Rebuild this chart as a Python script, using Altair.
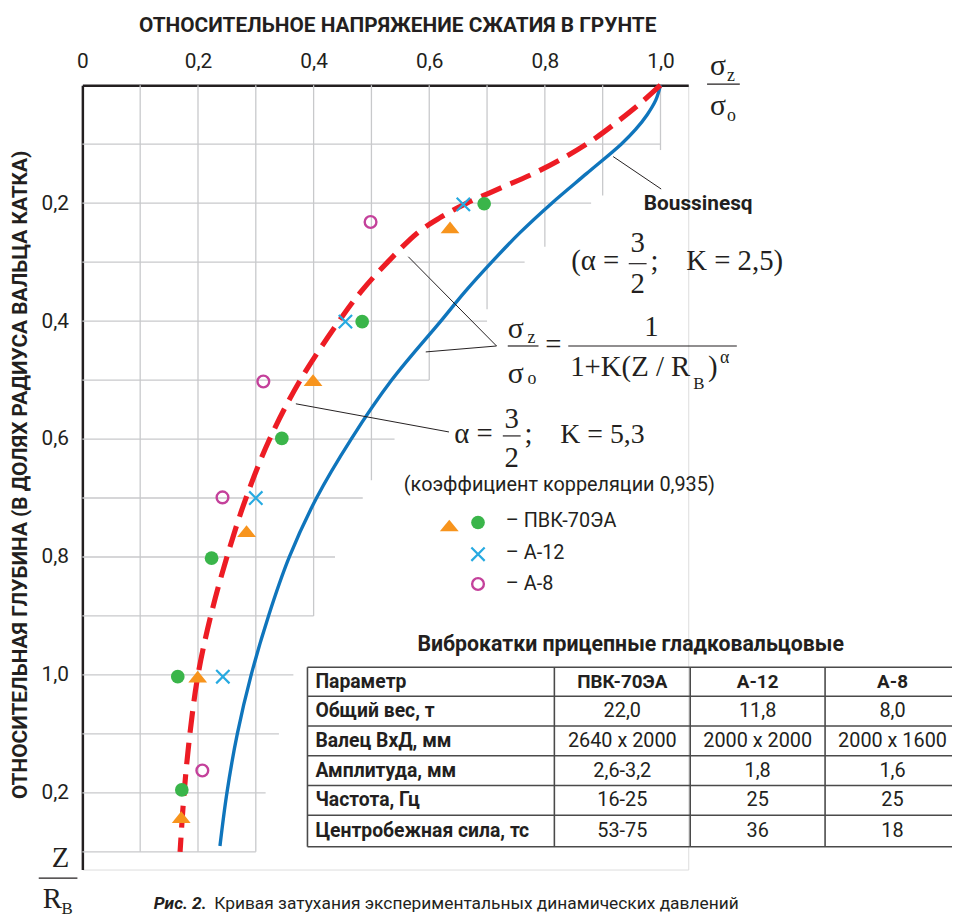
import json
import altair as alt
import pandas as pd

# ---------------- data ----------------
# Boussinesq curve (solid blue): relative depth Z/R_B -> relative stress
blue_depth = [0.0, 0.025, 0.05, 0.075, 0.10, 0.15, 0.20, 0.25, 0.30, 0.35, 0.40,
              0.50, 0.60, 0.70, 0.80, 0.90, 1.00, 1.10, 1.20, 1.29]
blue_ratio = [1.0, 0.992, 0.977, 0.957, 0.932, 0.872, 0.812, 0.757, 0.708, 0.662, 0.620,
              0.535, 0.465, 0.405, 0.358, 0.322, 0.292, 0.268, 0.250, 0.238]

# experimental fit (red dashed)
red_depth = [0.0, 0.03, 0.06, 0.09, 0.12, 0.15, 0.175, 0.20, 0.225, 0.25, 0.30, 0.35,
             0.40, 0.50, 0.60, 0.70, 0.80, 0.90, 1.00, 1.10, 1.20, 1.30]
red_ratio = [1.0, 0.966, 0.928, 0.887, 0.838, 0.780, 0.722, 0.665, 0.618, 0.580, 0.528,
             0.482, 0.444, 0.377, 0.324, 0.283, 0.250, 0.222, 0.200, 0.186, 0.176, 0.169]

# measured points
pvk_tri_ratio = [0.636, 0.399, 0.284, 0.1995, 0.171]
pvk_tri_depth = [0.241, 0.500, 0.756, 1.003, 1.241]
pvk_dot_ratio = [0.695, 0.484, 0.345, 0.2235, 0.165, 0.172]
pvk_dot_depth = [0.201, 0.401, 0.599, 0.802, 1.003, 1.195]
a12_ratio = [0.659, 0.455, 0.300, 0.243]
a12_depth = [0.202, 0.401, 0.700, 1.003]
a8_ratio = [0.4985, 0.313, 0.2424, 0.2075]
a8_depth = [0.232, 0.5025, 0.699, 1.162]

# axes
x_tick_values = [0, 0.2, 0.4, 0.6, 0.8, 1.0]
x_tick_labels = ["0", "0,2", "0,4", "0,6", "0,8", "1,0"]
y_tick_values = [0.2, 0.4, 0.6, 0.8, 1.0, 1.2]
y_tick_labels = ["0,2", "0,4", "0,6", "0,8", "1,0", "0,2"]

# grid (stepped extent as in the picture)
grid_h_depth = [0.1, 0.2, 0.3, 0.4, 0.5, 0.6, 0.7, 0.8, 0.9, 1.0, 1.1, 1.2, 1.3]
grid_h_end = [1.0, 0.88, 0.765, 0.70, 0.60, 0.54, 0.485, 0.437, 0.40, 0.365, 0.34, 0.317, 0.30]
grid_v_ratio = [0.1, 0.2, 0.3, 0.4, 0.5, 0.6, 0.7, 0.8, 0.9, 1.0]
grid_v_end = [1.3, 1.3, 1.3, 0.90, 0.67, 0.50, 0.38, 0.274, 0.187, 0.11]

# texts
title_text = "ОТНОСИТЕЛЬНОЕ НАПРЯЖЕНИЕ СЖАТИЯ В ГРУНТЕ"
y_title_text = "ОТНОСИТЕЛЬНАЯ ГЛУБИНА (В ДОЛЯХ РАДИУСА ВАЛЬЦА КАТКА)"
legend_labels = ["– ПВК-70ЭА", "– А-12", "– А-8"]
corr_text = "(коэффициент корреляции 0,935)"
table_title = "Виброкатки прицепные гладковальцовые"
table_header = ["Параметр", "ПВК-70ЭА", "А-12", "А-8"]
table_params = ["Общий вес, т", "Валец ВхД, мм", "Амплитуда, мм", "Частота, Гц", "Центробежная сила, тс"]
table_pvk = ["22,0", "2640 x 2000", "2,6-3,2", "16-25", "53-75"]
table_a12 = ["11,8", "2000 x 2000", "1,8", "25", "36"]
table_a8 = ["8,0", "2000 x 1600", "1,6", "25", "18"]
caption_bold = "Рис. 2."
caption_rest = "Кривая затухания экспериментальных динамических давлений"

# ---------------- layout ----------------
W, H = 611, 791
XMAX, YMAX = 1.048, 1.33
PAD_L, PAD_T = 75, 74
X0, Y0 = 8 + PAD_L, 8 + PAD_T
SX, SY = W / XMAX, H / YMAX


def dx(px):
    return (px - X0) / SX


def dz(py):
    return (py - Y0) / SY


INK = "#231f20"
GRID = "#c8c9cb"
SANS = "Roboto"
SERIF = "Liberation Serif"

xs = alt.Scale(domain=[0, XMAX], nice=False, zero=False)
ys = alt.Scale(domain=[0, YMAX], nice=False, zero=False, reverse=True)
xaxis = alt.Axis(orient="top", values=x_tick_values,
                 labelExpr=f"{json.dumps(x_tick_labels)}[round(datum.value*5)]",
                 ticks=False, grid=False, domainColor=INK, domainWidth=2.5,
                 labelFont=SANS, labelFontSize=21, labelColor=INK, labelPadding=14,
                 labelFlush=False, labelOverlap=False, title=None)
yaxis = alt.Axis(orient="left", values=y_tick_values,
                 labelExpr=f"{json.dumps(y_tick_labels)}[round(datum.value*5)-1]",
                 ticks=False, grid=False, domainColor=INK, domainWidth=2.5,
                 labelFont=SANS, labelFontSize=21, labelColor=INK, labelPadding=14,
                 labelFlush=False, labelOverlap=False, title=None)


def XE(f):
    return alt.X(f, type="quantitative", scale=xs, axis=xaxis)


def YE(f):
    return alt.Y(f, type="quantitative", scale=ys, axis=yaxis)


def rules(segs, **kw):
    df = pd.DataFrame(segs, columns=["x", "y", "x2", "y2"])
    return alt.Chart(df).mark_rule(**kw).encode(
        x=XE("x"), y=YE("y"), x2="x2:Q", y2="y2:Q")


def px_rules(segs, **kw):
    return rules([(dx(a), dz(b), dx(c), dz(d)) for a, b, c, d in segs], **kw)


def texts(items, **kw):
    # items: (px, py, text, size)
    df = pd.DataFrame([{"x": dx(a), "y": dz(b), "t": t, "s": s} for a, b, t, s in items])
    return alt.Chart(df).mark_text(**kw).encode(
        x=XE("x"), y=YE("y"), text="t:N",
        size=alt.Size("s:Q", scale=None, legend=None))


layers = []

# grid
layers.append(rules([(0, z, e, z) for z, e in zip(grid_h_depth, grid_h_end)],
                    color=GRID, strokeWidth=1.3))
layers.append(rules([(x, 0, x, e) for x, e in zip(grid_v_ratio, grid_v_end)],
                    color=GRID, strokeWidth=1.3))

# curves
blue_df = pd.DataFrame({"ratio": blue_ratio, "depth": blue_depth})
red_df = pd.DataFrame({"ratio": red_ratio, "depth": red_depth})
layers.append(alt.Chart(blue_df).mark_line(color="#0f75bc", strokeWidth=3.4,
                                           interpolate="catmull-rom").encode(
    x=XE("ratio"), y=YE("depth"), order=alt.Order("depth:Q")))
layers.append(alt.Chart(red_df).mark_line(color="#ed1c24", strokeWidth=5.2,
                                          strokeDash=[22, 10], interpolate="catmull-rom").encode(
    x=XE("ratio"), y=YE("depth"), order=alt.Order("depth:Q")))

TRI = "M0,-0.62L1,0.62L-1,0.62Z"
XSHAPE = "M-1,-1L1,1M-1,1L1,-1"
mk_tri = dict(shape=TRI, filled=True, color="#f7941d", size=361, opacity=1, strokeWidth=0)
mk_dot = dict(shape="circle", filled=True, color="#3ab54a", size=190, opacity=1, strokeWidth=0)
mk_x = dict(shape=XSHAPE, filled=False, color="#27aae1", size=180, opacity=1, strokeWidth=2.2)
mk_o = dict(shape="circle", filled=False, color="#c4419b", size=140, opacity=1, strokeWidth=2.4)


def points(xv, zv, style):
    df = pd.DataFrame({"ratio": xv, "depth": zv})
    return alt.Chart(df).mark_point(**style).encode(x=XE("ratio"), y=YE("depth"))


layers.append(points(a8_ratio, a8_depth, mk_o))
layers.append(points(pvk_dot_ratio, pvk_dot_depth, mk_dot))
layers.append(points(pvk_tri_ratio, pvk_tri_depth, mk_tri))
layers.append(points(a12_ratio, a12_depth, mk_x))

# legend symbols
layers.append(points([dx(453)], [dz(526)], mk_tri))
layers.append(points([dx(482)], [dz(523)], mk_dot))
layers.append(points([dx(482)], [dz(555)], mk_x))
layers.append(points([dx(482)], [dz(585)], mk_o))

# leader lines and fraction bars
layers.append(px_rules([(618.3, 154, 666.7, 186.7), (411.7, 255, 500.7, 345),
                        (429.3, 351, 500.7, 345), (298.3, 403.3, 452.7, 431.7)],
                       color=INK, strokeWidth=1))
layers.append(px_rules([(634, 262, 652, 262), (512, 345, 543, 345), (573, 345, 743, 345),
                        (507, 435.7, 525, 435.7), (713, 81, 746, 81), (39, 881.7, 78, 881.7)],
                       color=INK, strokeWidth=1.2))

# table grid
t_left, t_right = 310, 968
col_edges = [310, 559, 696, 832]
row_edges = [669, 698.3, 728.3, 758.3, 788.3, 818.3, 850]
layers.append(px_rules([(t_left, y, t_right, y) for y in row_edges] +
                       [(x, row_edges[0], x, row_edges[-1]) for x in col_edges],
                       color="#4a4a4a", strokeWidth=1.6))

# bold sans texts
layers.append(texts([(401, 22, title_text, 21), (704, 202, "Boussinesq", 21),
                     (636, 647, table_title, 21.5)],
                    font=SANS, fontWeight="bold", color=INK, align="center", baseline="middle"))
layers.append(texts([(21, 475, y_title_text, 21)],
                    font=SANS, fontWeight="bold", color=INK, align="center", baseline="middle",
                    angle=270))

# regular sans texts
layers.append(texts([(564, 485, corr_text, 20)],
                    font=SANS, color=INK, align="center", baseline="middle"))
layers.append(texts([(510, 522, legend_labels[0], 20), (510, 554, legend_labels[1], 20),
                     (510, 585, legend_labels[2], 20)],
                    font=SANS, color=INK, align="left", baseline="middle"))

# table texts
row_c = [(row_edges[i] + row_edges[i + 1]) / 2 for i in range(len(row_edges) - 1)]
col_c = [(col_edges[i] + (col_edges[i + 1] if i + 1 < len(col_edges) else t_right)) / 2
         for i in range(len(col_edges))]
layers.append(texts([(318, row_c[0], table_header[0], 19.5)] +
                    [(318, row_c[i + 1], p, 19.5) for i, p in enumerate(table_params)],
                    font=SANS, fontWeight="bold", color=INK, align="left", baseline="middle"))
layers.append(texts([(col_c[j], row_c[0], table_header[j], 19) for j in (1, 2, 3)],
                    font=SANS, fontWeight="bold", color=INK, align="center", baseline="middle"))
vals = []
for j, col in enumerate([table_pvk, table_a12, table_a8]):
    for i, v in enumerate(col):
        vals.append((col_c[j + 1], row_c[i + 1], v, 20))
layers.append(texts(vals, font=SANS, color=INK, align="center", baseline="middle"))

# caption
layers.append(texts([(155, 913, caption_bold, 17.5)], font=SANS, fontWeight="bold",
                    fontStyle="italic", color=INK, align="left", baseline="alphabetic"))
layers.append(texts([(216, 913, caption_rest, 17.5)], font=SANS, color=INK,
                    align="left", baseline="alphabetic"))

# serif math, left aligned
layers.append(texts([
    (576, 268, "(α =", 29), (656, 268, ";", 29), (692, 268, "K = 2,5)", 29),
    (512, 337, "σ", 30), (532, 342, "z", 18), (512, 382, "σ", 30), (532, 383, "o", 18),
    (575, 375, "1+K(Z / R", 29), (699, 388, "B", 17), (714, 375, ")", 29), (726, 362, "α", 18),
    (458, 443, "α =", 29), (529, 443, ";", 29), (565, 443, "K = 5,3", 28),
    (716, 72, "σ", 30), (733, 78, "z", 18), (716, 112, "σ", 30), (733, 118, "o", 18),
    (52, 870, "Z", 29), (43, 912, "R", 29), (62, 918, "B", 17),
], font=SERIF, color=INK, align="left", baseline="alphabetic"))
# serif math, centered
layers.append(texts([
    (643, 250, "3", 29), (643, 292, "2", 29),
    (558, 353, "=", 29), (657, 335, "1", 29),
    (516, 428, "3", 29), (516, 467, "2", 29),
], font=SERIF, color=INK, align="center", baseline="alphabetic"))

chart = alt.layer(*layers).properties(
    width=W, height=H,
    padding={"left": PAD_L, "top": PAD_T, "right": 952 - PAD_L - W, "bottom": 909 - PAD_T - H},
    autosize=alt.AutoSizeParams(type="none"),
).configure_view(strokeWidth=0).configure(background="white")

chart.save("out.html", embed_options={"renderer": "svg", "actions": False})
